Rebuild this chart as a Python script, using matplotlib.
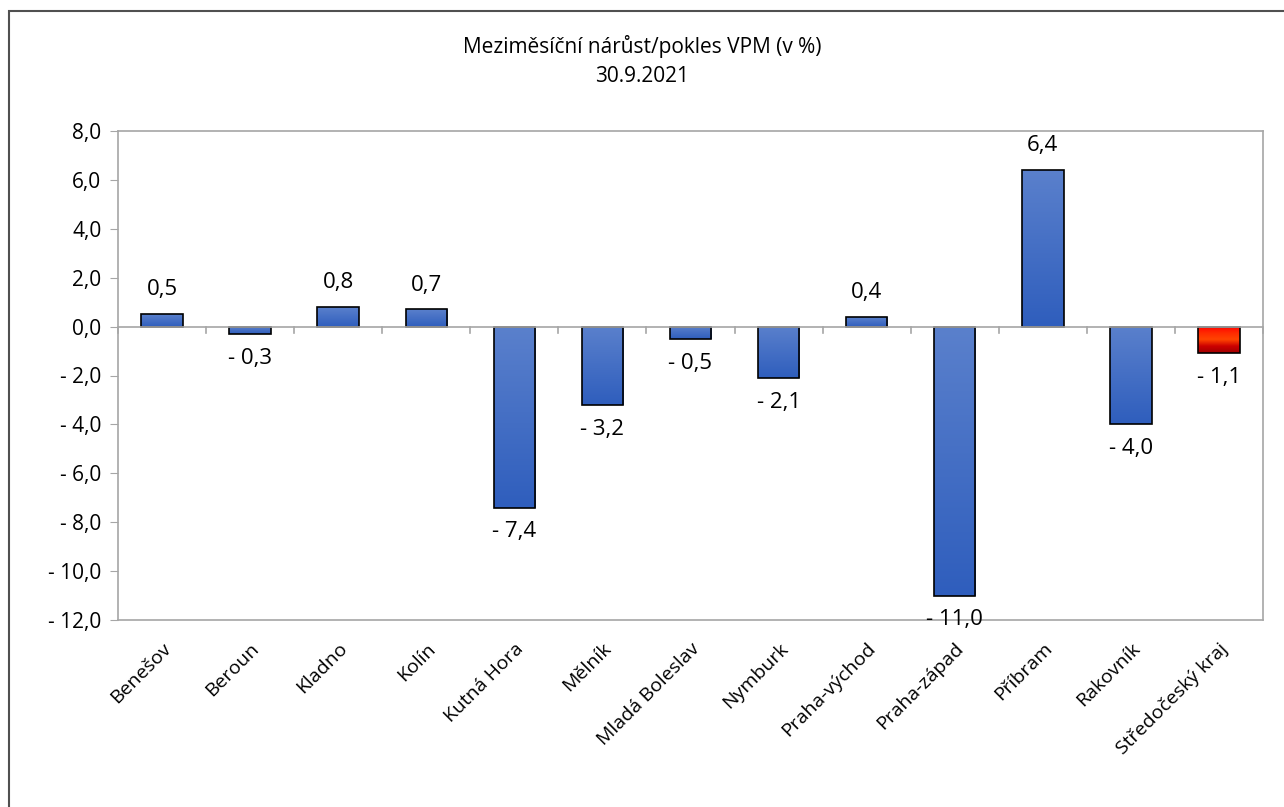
import numpy as np
import matplotlib
matplotlib.use('Agg')
import matplotlib.pyplot as plt
from matplotlib.colors import LinearSegmentedColormap
from matplotlib.patches import Rectangle

plt.rcParams['font.family'] = ['Open Sans', 'DejaVu Sans']

# data
okresy = ['Benešov', 'Beroun', 'Kladno', 'Kolín', 'Kutná Hora', 'Mělník',
          'Mladá Boleslav', 'Nymburk', 'Praha-východ', 'Praha-západ',
          'Příbram', 'Rakovník', 'Středočeský kraj']
zmena = [0.5, -0.3, 0.8, 0.7, -7.4, -3.2, -0.5, -2.1, 0.4, -11.0, 6.4, -4.0, -1.1]
yticks = [8, 6, 4, 2, 0, -2, -4, -6, -8, -10, -12]


def fmt(v):
    s = '{:.1f}'.format(abs(v)).replace('.', ',')
    return '- ' + s if v < 0 else s


fig = plt.figure(figsize=(12.84, 8.07), dpi=100)
ax = fig.add_axes([118 / 1284, 1 - 620 / 807, (1263 - 118) / 1284, (620 - 131) / 807])

# ramecek kolem grafu
fig.patches.append(Rectangle((9 / 1284, -0.1), 1.2, 1 - 11 / 807 + 0.1,
                             transform=fig.transFigure, fill=False,
                             edgecolor='#505050', lw=1.5))

x = np.arange(len(okresy))
sirka = 0.47
modra = LinearSegmentedColormap.from_list('m', ['#5a80cc', '#2f5ebd'])
cervena = LinearSegmentedColormap.from_list('c', ['#ff0000', '#ff2a00', '#ff4400', '#cc0000', '#a00000'])

bars = ax.bar(x, zmena, sirka, color='none', edgecolor='black', lw=1.2, zorder=3)
grad = np.linspace(0, 1, 100).reshape(-1, 1)
for i, b in enumerate(bars):
    cm = cervena if i == len(okresy) - 1 else modra
    x0, y0 = b.get_x(), b.get_y()
    w, h = b.get_width(), b.get_height()
    lo, hi = min(y0, y0 + h), max(y0, y0 + h)
    im = ax.imshow(grad, cmap=cm, aspect='auto', extent=(x0, x0 + w, lo, hi),
                   origin='upper', zorder=2)
    im.set_clip_path(b)

for xi, v in zip(x, zmena):
    if v >= 0:
        ax.annotate(fmt(v), (xi, v), xytext=(0, 10), textcoords='offset points',
                    ha='center', va='bottom', fontsize=16)
    else:
        ax.annotate(fmt(v), (xi, v), xytext=(0, -10), textcoords='offset points',
                    ha='center', va='top', fontsize=16)

ax.axhline(0, color='#a6a6a6', lw=1.2, zorder=4)
for xb in np.arange(-0.5, len(okresy), 1.0):
    ax.plot([xb, xb], [0, -0.25], color='#a6a6a6', lw=1.2, zorder=4, clip_on=False)

ax.set_xlim(-0.5, len(okresy) - 0.5)
ax.set_ylim(-12, 8)
ax.set_yticks(yticks)
ax.set_yticklabels([fmt(t) for t in yticks], fontsize=15)
ax.tick_params(axis='y', direction='out', length=6, color='#a6a6a6', pad=6)
ax.set_xticks(x)
ax.set_xticklabels(okresy, rotation=45, ha='right', rotation_mode='anchor', fontsize=14)
ax.tick_params(axis='x', length=0, pad=14)
for s in ax.spines.values():
    s.set_color('#a6a6a6')
    s.set_linewidth(1.2)

fig.text(0.5, 1 - 47 / 807, 'Meziměsíční nárůst/pokles VPM (v %)', ha='center', va='center', fontsize=15)
fig.text(0.5, 1 - 77 / 807, '30.9.2021', ha='center', va='center', fontsize=15)

fig.savefig('out.png', dpi=100)
